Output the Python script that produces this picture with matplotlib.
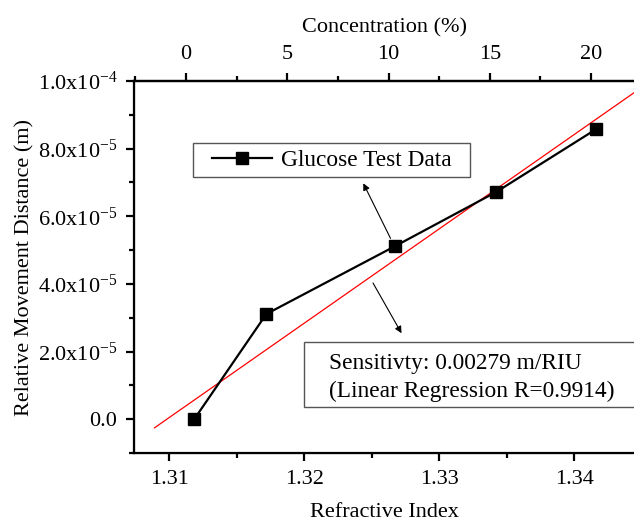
import matplotlib
matplotlib.use("Agg")
import matplotlib.pyplot as plt
import numpy as np
from matplotlib.patches import Rectangle
from matplotlib.ticker import MultipleLocator

plt.rcParams["font.family"] = ["Liberation Serif", "DejaVu Serif"]
plt.rcParams["mathtext.fontset"] = "custom"
plt.rcParams["mathtext.rm"] = "Liberation Serif"
plt.rcParams["mathtext.it"] = "Liberation Serif:italic"

# data
refractive_index = [1.31185, 1.31719, 1.32674, 1.33422, 1.34163]
movement = [0.0, 3.11e-5, 5.12e-5, 6.72e-5, 8.58e-5]

fit_slope = 0.00279
fit_intercept = -0.0036544
fit_x = [1.3089, 1.3450]

y_ticks = [0.0, 2e-5, 4e-5, 6e-5, 8e-5, 1e-4]
y_tick_labels = ["0.0", "2.0x10$^{-5}$", "4.0x10$^{-5}$", "6.0x10$^{-5}$",
                 "8.0x10$^{-5}$", "1.0x10$^{-4}$"]
x_ticks = [1.31, 1.32, 1.33, 1.34]
conc_ticks = [0, 5, 10, 15, 20]

fs = 16
fs_note = 16.8

fig = plt.figure(figsize=(6.34, 5.21), dpi=100)
ax = fig.add_axes([0.2114, 0.1305, 0.7886, 0.714])

ax.plot(refractive_index, movement, color="black", lw=1.6, marker="s",
        ms=8, label="Glucose Test Data", zorder=3)
fx = np.array(fit_x)
ax.plot(fx, fit_slope * fx + fit_intercept, color="red", lw=0.9, zorder=2)

ax.set_xlim(1.30739, 1.34442)
ax.set_ylim(-1e-5, 1e-4)
ax.set_xticks(x_ticks)
ax.set_xticklabels([f"{v:.2f}" for v in x_ticks])
ax.xaxis.set_minor_locator(MultipleLocator(0.005))
ax.set_yticks(y_ticks)
ax.set_yticklabels(y_tick_labels)
ax.yaxis.set_minor_locator(MultipleLocator(1e-5))
ax.set_xlabel("Refractive Index", fontsize=fs, labelpad=10)
ax.set_ylabel("Relative Movement Distance (m)", fontsize=fs, labelpad=2)

ax.spines["right"].set_visible(False)
for s in ["left", "bottom", "top"]:
    ax.spines[s].set_linewidth(1.6)
ax.tick_params(which="major", direction="out", length=6, width=1.6,
               labelsize=fs, pad=6)
ax.tick_params(which="minor", direction="out", length=3.5, width=1.6)
ax.tick_params(right=False, top=False, which="both")

top = ax.twiny()
top.set_xlim(-2.57, 22.12)
top.set_xticks(conc_ticks)
top.xaxis.set_minor_locator(MultipleLocator(2.5))
top.spines["right"].set_visible(False)
top.spines["top"].set_linewidth(1.6)
top.tick_params(which="major", direction="out", length=6, width=1.6,
                labelsize=fs, pad=6)
top.tick_params(which="minor", direction="out", length=3.5, width=1.6)
top.set_xlabel("Concentration (%)", fontsize=fs, labelpad=9)

# legend box
ax.add_patch(Rectangle((0.118, 0.742), 0.554, 0.091, transform=ax.transAxes,
                       fill=True, facecolor="white", edgecolor="#555555",
                       lw=1.0, zorder=4))
ax.legend(loc="center", bbox_to_anchor=(0.395, 0.7875), frameon=False,
          fontsize=fs_note, handlelength=2.6, handletextpad=0.35,
          borderpad=0.0).set_zorder(5)

# sensitivity box
ax.add_patch(Rectangle((0.34, 0.124), 0.72, 0.174, transform=ax.transAxes,
                       fill=True, facecolor="white", edgecolor="#555555",
                       lw=1.0, zorder=4, clip_on=False))
ax.text(0.39, 0.203, "Sensitivty: 0.00279 m/RIU\n(Linear Regression R=0.9914)",
        transform=ax.transAxes, fontsize=fs_note, va="center", ha="left",
        linespacing=1.4, zorder=5)

arrow = dict(arrowstyle="-|>", color="black", lw=0.8, mutation_scale=10,
             shrinkA=0, shrinkB=0)
ax.annotate("", xy=(0.4586, 0.725), xytext=(0.513, 0.577),
            xycoords="axes fraction", textcoords="axes fraction",
            arrowprops=arrow, zorder=5)
ax.annotate("", xy=(0.535, 0.322), xytext=(0.478, 0.457),
            xycoords="axes fraction", textcoords="axes fraction",
            arrowprops=arrow, zorder=5)

fig.savefig("out.png", dpi=100)
